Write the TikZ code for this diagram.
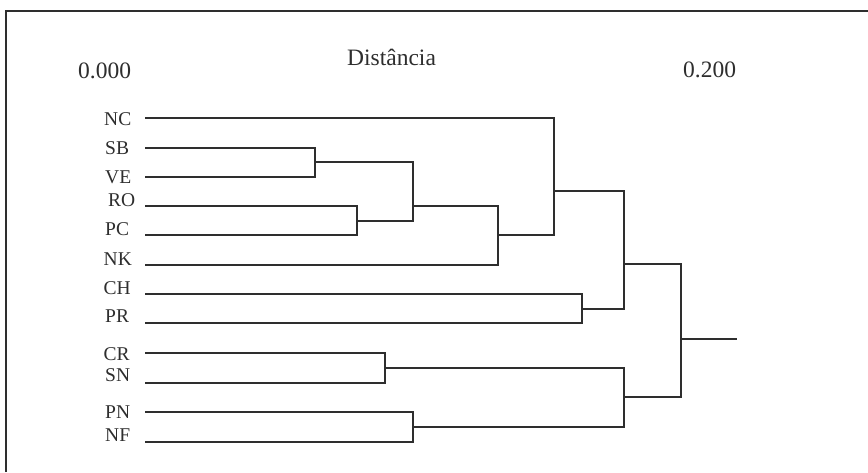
\documentclass[tikz,border=0pt]{standalone}
\usepackage{fontspec}
\setmainfont{Liberation Serif}
\begin{document}
\begin{tikzpicture}[x=1pt,y=-1pt,
  branch/.style={draw=black!82,line width=2.6pt,line join=miter,line cap=butt},
  frameline/.style={draw=black!82,line width=1.5pt},
  leaflbl/.style={anchor=base west,inner sep=0pt,text=black!82,font=\fontsize{19.5}{22}\selectfont},
  toplbl/.style={anchor=base west,inner sep=0pt,text=black!82,font=\fontsize{23.5}{26}\selectfont}]
\useasboundingbox (0,0) rectangle (868,472);
\fill[white] (0,0) rectangle (868,472);
\draw[frameline] (6,472) -- (6,11) -- (868,11);
% top labels
\node[toplbl] (t0) at (78,78) {0.000};
\node[toplbl] (td) at (347,65) {Distância};
\node[toplbl] (t2) at (683,77) {0.200};
% leaf labels
\node[leaflbl] (nNC) at (104,125) {NC};
\node[leaflbl] (nSB) at (105,154) {SB};
\node[leaflbl] (nVE) at (105,183.3) {VE};
\node[leaflbl] (nRO) at (108,206) {RO};
\node[leaflbl] (nPC) at (105,235) {PC};
\node[leaflbl] (nNK) at (103.5,265) {NK};
\node[leaflbl] (nCH) at (103.5,294) {CH};
\node[leaflbl] (nPR) at (105,322.7) {PR};
\node[leaflbl] (nCR) at (103.5,360) {CR};
\node[leaflbl] (nSN) at (105,381.7) {SN};
\node[leaflbl] (nPN) at (105,418.3) {PN};
\node[leaflbl] (nNF) at (105,441.7) {NF};
% leaf line starts
\coordinate (lNC) at (145,118);
\coordinate (lSB) at (145,148);
\coordinate (lVE) at (145,177);
\coordinate (lRO) at (145,206);
\coordinate (lPC) at (145,235);
\coordinate (lNK) at (145,265);
\coordinate (lCH) at (145,294);
\coordinate (lPR) at (145,323);
\coordinate (lCR) at (145,353);
\coordinate (lSN) at (145,383);
\coordinate (lPN) at (145,412);
\coordinate (lNF) at (145,442);
% joins
\coordinate (j1) at (315,162);
\coordinate (j2) at (357,221);
\coordinate (j3) at (413,206);
\coordinate (j5) at (498,235);
\coordinate (j6) at (554,191);
\coordinate (j7) at (582,309);
\coordinate (j8) at (624,264);
\coordinate (j9) at (385,368);
\coordinate (j10) at (413,427);
\coordinate (j11) at (624,397);
\coordinate (j12) at (681,339);
\coordinate (root) at (737,339);
% branches
\draw[branch] (lSB) -| (j1) |- (lVE);
\draw[branch] (lRO) -| (j2) |- (lPC);
\draw[branch] (j1) -| (j3) |- (j2);
\draw[branch] (j3) -| (j5) |- (lNK);
\draw[branch] (lNC) -| (j6) |- (j5);
\draw[branch] (lCH) -| (j7) |- (lPR);
\draw[branch] (j6) -| (j8) |- (j7);
\draw[branch] (lCR) -| (j9) |- (lSN);
\draw[branch] (lPN) -| (j10) |- (lNF);
\draw[branch] (j9) -| (j11) |- (j10);
\draw[branch] (j8) -| (j12) |- (j11);
\draw[branch] (j12) -- (root);
\end{tikzpicture}
\end{document}
